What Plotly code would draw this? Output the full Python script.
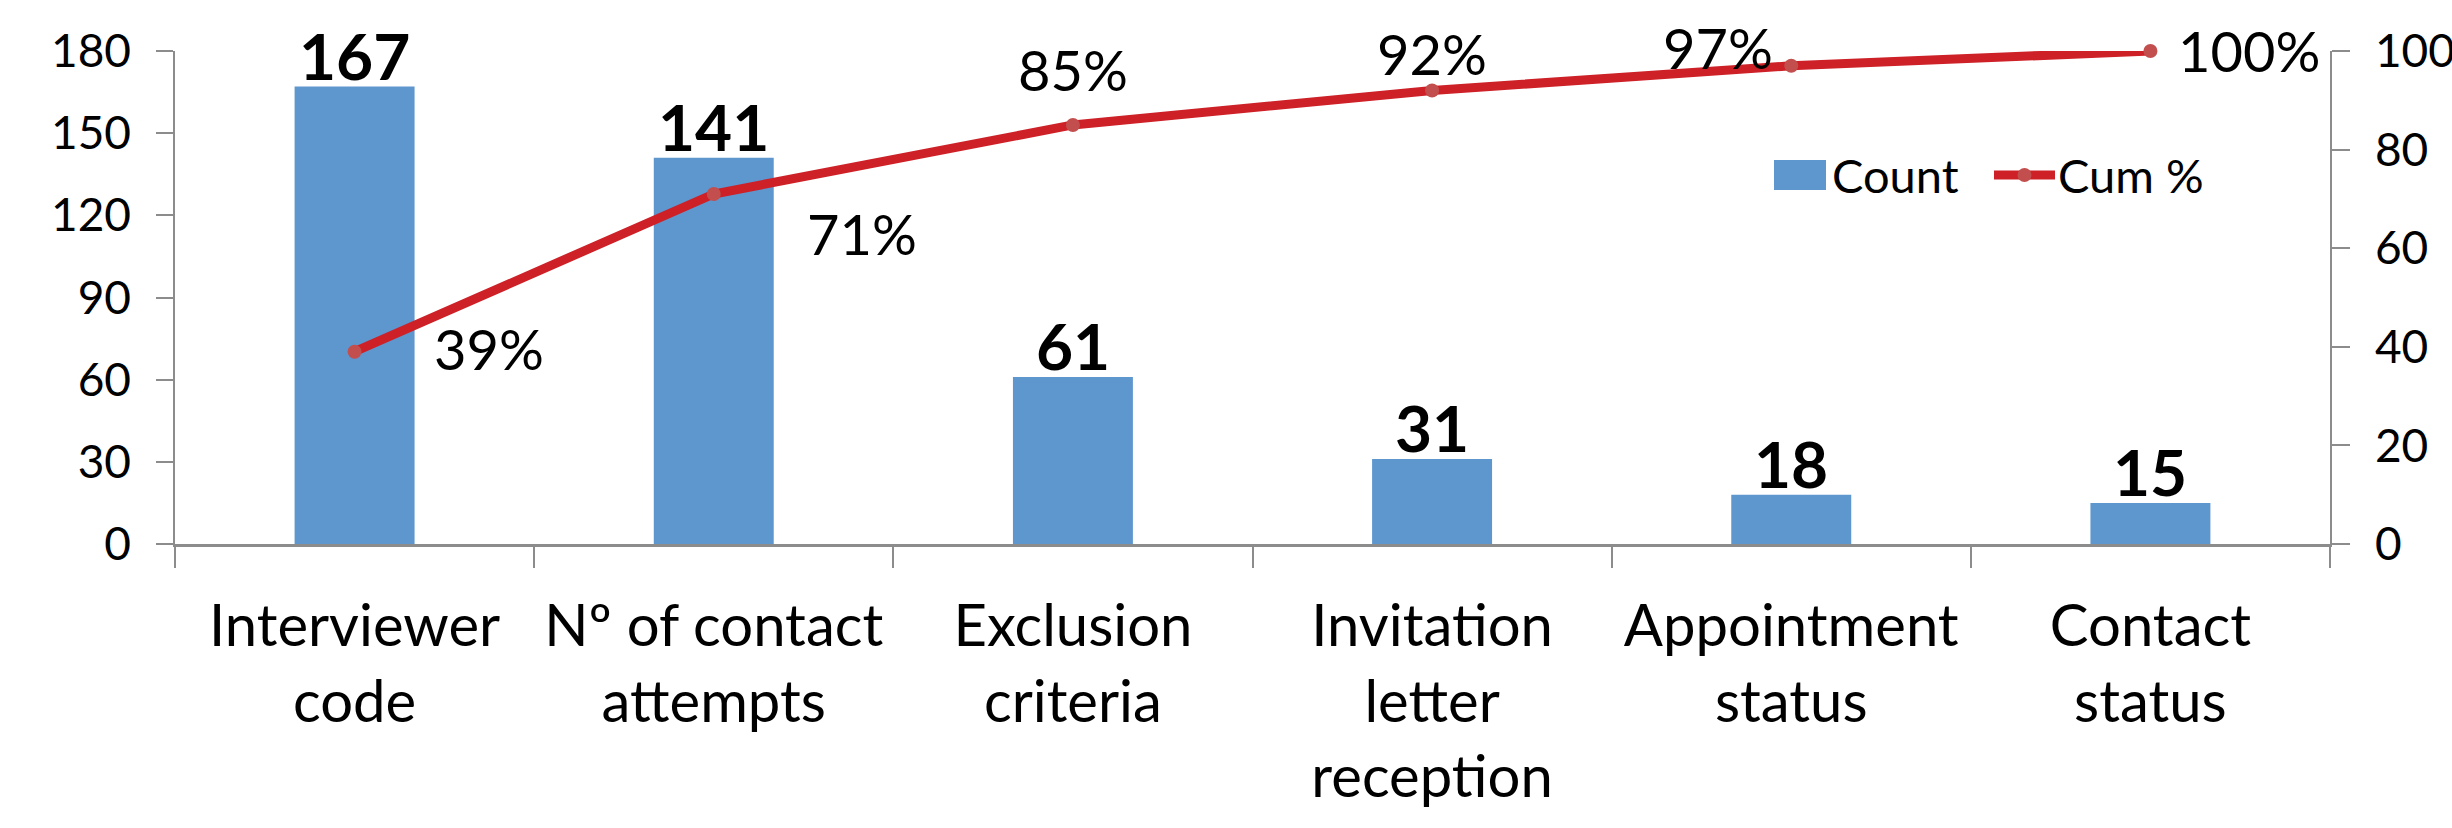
import plotly.graph_objects as go

# ---- data ---------------------------------------------------------------
categories = [
    "Interviewer<br>code",
    "Nº of contact<br>attempts",
    "Exclusion<br>criteria",
    "Invitation<br>letter<br>reception",
    "Appointment<br>status",
    "Contact<br>status",
]
counts = [167, 141, 61, 31, 18, 15]
cum_pct = [39, 71, 85, 92, 97, 100]
count_ticks = [0, 30, 60, 90, 120, 150, 180]
pct_ticks = [0, 20, 40, 60, 80, 100]

# ---- styling ------------------------------------------------------------
FONT = "Lato"
AXIS_GREY = "#8C8C8C"
BAR_BLUE = "#5E96CE"
LINE_RED = "#CD2027"
MARKER_RED = "#C24F4E"

W, H = 2452, 828
MARGIN = dict(l=175, r=122, t=51, b=284)
PLOT_X0, PLOT_X1 = MARGIN["l"], W - MARGIN["r"]
PLOT_Y0, PLOT_Y1 = MARGIN["t"], H - MARGIN["b"]

# placement of each cumulative-% label relative to its point (px right, px down)
pct_label_offsets = [(134, -3), (148, 40), (0, -55), (0, -37), (-73, -18), (99, -1)]


def paper_x(px):
    return (px - PLOT_X0) / (PLOT_X1 - PLOT_X0)


def paper_y(py):
    return (PLOT_Y1 - py) / (PLOT_Y1 - PLOT_Y0)


fig = go.Figure()

fig.add_trace(go.Bar(
    x=categories, y=counts, name="Count",
    marker=dict(color=BAR_BLUE, line=dict(width=0)),
    showlegend=False,
))

fig.add_trace(go.Scatter(
    x=categories, y=cum_pct, name="Cum %", yaxis="y2",
    mode="lines+markers",
    line=dict(color=LINE_RED, width=9),
    marker=dict(color=MARKER_RED, size=14),
    cliponaxis=False, showlegend=False,
))

annotations = []

# bold count labels above the bars
for cat, val in zip(categories, counts):
    annotations.append(dict(
        x=cat, y=val, xref="x", yref="y", text=f"<b>{val}</b>",
        showarrow=False, xanchor="center", yanchor="bottom", yshift=-9,
        font=dict(family=FONT, size=64, color="black"),
    ))

# cumulative percentage labels
for cat, val, (dx, dy) in zip(categories, cum_pct, pct_label_offsets):
    annotations.append(dict(
        x=cat, y=val, xref="x", yref="y2", text=f"{val}%",
        showarrow=False, xanchor="center", yanchor="middle",
        xshift=dx, yshift=-dy,
        font=dict(family=FONT, size=56, color="black"),
    ))

# legend entries
legend_font = dict(family=FONT, size=47, color="black")
annotations.append(dict(
    x=paper_x(1830), y=paper_y(175), xref="paper", yref="paper", text="Count",
    showarrow=False, xanchor="left", yanchor="middle", font=legend_font,
))
annotations.append(dict(
    x=paper_x(2056), y=paper_y(175), xref="paper", yref="paper", text="Cum %",
    showarrow=False, xanchor="left", yanchor="middle", font=legend_font,
))

shapes = [
    dict(type="rect", xref="paper", yref="paper",
         x0=paper_x(1774), x1=paper_x(1826), y0=paper_y(190), y1=paper_y(160),
         fillcolor=BAR_BLUE, line=dict(width=0)),
    dict(type="line", xref="paper", yref="paper",
         x0=paper_x(1994), x1=paper_x(2055), y0=paper_y(175), y1=paper_y(175),
         line=dict(color=LINE_RED, width=9)),
    dict(type="circle", xref="paper", yref="paper",
         x0=paper_x(2017.5), x1=paper_x(2031.5), y0=paper_y(182), y1=paper_y(168),
         fillcolor=MARKER_RED, line=dict(width=0)),
]

axis_common = dict(
    showline=True, linecolor=AXIS_GREY, linewidth=1.5,
    ticks="outside", tickcolor=AXIS_GREY, tickwidth=1.5,
    showgrid=False, zeroline=False, automargin=False,
    tickfont=dict(family=FONT, size=46, color="black"),
)

fig.update_layout(
    width=W, height=H,
    margin=MARGIN,
    paper_bgcolor="white", plot_bgcolor="white",
    font=dict(family=FONT, color="black"),
    bargap=0.666,
    showlegend=False,
    xaxis=dict(
        type="category", range=[-0.5, 5.5],
        showline=True, linecolor=AXIS_GREY, linewidth=2.5,
        ticks="outside", tickson="boundaries", ticklen=21,
        tickcolor=AXIS_GREY, tickwidth=1.5,
        showgrid=False, zeroline=False, automargin=False,
        tickfont=dict(family=FONT, size=58, color="black"),
        ticklabelstandoff=30,
    ),
    yaxis=dict(
        range=[0, 180], tickvals=count_ticks, ticklen=17,
        ticklabelstandoff=16, **axis_common,
    ),
    yaxis2=dict(
        range=[0, 100], tickvals=pct_ticks, ticklen=18,
        overlaying="y", side="right",
        ticklabelstandoff=16, **axis_common,
    ),
    annotations=annotations,
    shapes=shapes,
)

fig.write_html("out.html")
